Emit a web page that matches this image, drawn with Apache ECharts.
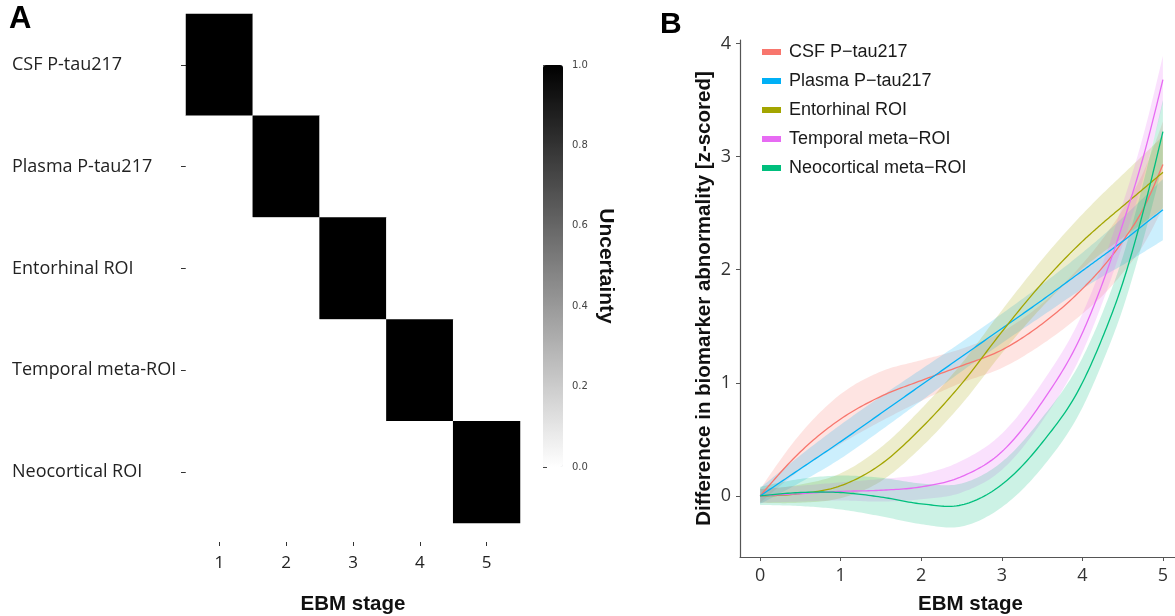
<!DOCTYPE html>
<html><head><meta charset="utf-8">
<script src="https://cdn.jsdelivr.net/npm/echarts@6/dist/echarts.min.js"></script>
<style>html,body{margin:0;padding:0;background:#fff;overflow:hidden}#c{width:1175px;height:616px}</style>
</head><body><div id="c"></div>
<script>
// ---------- Panel A data ----------
const ebmStages = ['1', '2', '3', '4', '5'];
const biomarkers = ['CSF P-tau217', 'Plasma P-tau217', 'Entorhinal ROI', 'Temporal meta-ROI', 'Neocortical ROI'];
// uncertainty[biomarker][stage]
const uncertainty = [
  [1, 0, 0, 0, 0],
  [0, 1, 0, 0, 0],
  [0, 0, 1, 0, 0],
  [0, 0, 0, 1, 0],
  [0, 0, 0, 0, 1]
];
const colorbarTicks = [0, 0.2, 0.4, 0.6, 0.8, 1.0];

// ---------- Panel B data ----------
const stageX = [0, 0.5, 1, 1.5, 2, 2.5, 3, 3.5, 4, 4.25, 4.5, 4.75, 5];
const xTicks = [0, 1, 2, 3, 4, 5];
const yTicks = [0, 1, 2, 3, 4];
const curveNames = ['CSF P\u2212tau217', 'Plasma P\u2212tau217', 'Entorhinal ROI', 'Temporal meta\u2212ROI', 'Neocortical meta\u2212ROI'];

const csfMean  = [0, 0.39, 0.68, 0.88, 1.02, 1.15, 1.29, 1.52, 1.83, 2.02, 2.25, 2.53, 2.93];
const csfLower = [-0.06, 0.23, 0.46, 0.66, 0.84, 1.00, 1.13, 1.34, 1.61, 1.77, 1.97, 2.21, 2.55];
const csfUpper = [0.06, 0.55, 0.90, 1.10, 1.20, 1.30, 1.45, 1.70, 2.05, 2.27, 2.53, 2.85, 3.31];

const plasmaMean  = [0, 0.24, 0.48, 0.73, 0.98, 1.23, 1.48, 1.73, 1.99, 2.12, 2.25, 2.39, 2.53];
const plasmaLower = [-0.07, 0.12, 0.33, 0.58, 0.84, 1.10, 1.35, 1.59, 1.83, 1.94, 2.04, 2.15, 2.26];
const plasmaUpper = [0.07, 0.36, 0.63, 0.88, 1.12, 1.36, 1.61, 1.87, 2.15, 2.30, 2.46, 2.63, 2.80];

const entoMean  = [0, 0.02, 0.09, 0.28, 0.60, 0.99, 1.45, 1.88, 2.25, 2.41, 2.56, 2.71, 2.86];
const entoLower = [-0.06, -0.06, -0.02, 0.13, 0.43, 0.81, 1.26, 1.67, 2.01, 2.15, 2.28, 2.41, 2.54];
const entoUpper = [0.06, 0.10, 0.20, 0.43, 0.77, 1.17, 1.64, 2.09, 2.49, 2.67, 2.84, 3.01, 3.18];

const tempMean  = [0, 0.02, 0.04, 0.05, 0.08, 0.17, 0.39, 0.83, 1.44, 1.88, 2.40, 2.98, 3.68];
const tempLower = [-0.06, -0.05, -0.04, -0.05, -0.03, 0.03, 0.23, 0.66, 1.27, 1.71, 2.22, 2.79, 3.47];
const tempUpper = [0.06, 0.09, 0.12, 0.15, 0.19, 0.31, 0.55, 1.00, 1.61, 2.05, 2.58, 3.17, 3.89];

const neoMean  = [0, 0.03, 0.03, -0.01, -0.07, -0.08, 0.10, 0.47, 1.00, 1.40, 1.88, 2.50, 3.22];
const neoLower = [-0.08, -0.09, -0.12, -0.18, -0.25, -0.27, -0.10, 0.25, 0.78, 1.18, 1.65, 2.25, 2.94];
const neoUpper = [0.08, 0.15, 0.18, 0.16, 0.11, 0.11, 0.30, 0.69, 1.22, 1.62, 2.11, 2.75, 3.50];

const curveColors = ['#F8766D', '#00B0F6', '#A3A500', '#E76BF3', '#00BF7D'];

// ---------- build ----------
const curves = [
  [csfMean, csfLower, csfUpper],
  [plasmaMean, plasmaLower, plasmaUpper],
  [entoMean, entoLower, entoUpper],
  [tempMean, tempLower, tempUpper],
  [neoMean, neoLower, neoUpper]
];

const heatData = [];
uncertainty.forEach((row, i) => row.forEach((v, j) => heatData.push([j, i, v])));

// smooth curve through (xs, ys): cubic Hermite with non-uniform tangents, sampled in data space
function smoothSamples(xs, ys) {
  const n = xs.length, h = [], d = [], m = [];
  for (let i = 0; i < n - 1; i++) { h.push(xs[i + 1] - xs[i]); d.push((ys[i + 1] - ys[i]) / h[i]); }
  for (let i = 1; i < n - 1; i++) m[i] = (d[i - 1] * h[i] + d[i] * h[i - 1]) / (h[i - 1] + h[i]);
  m[0] = 1.5 * d[0] - 0.5 * m[1];
  m[n - 1] = 1.5 * d[n - 2] - 0.5 * m[n - 2];
  const out = [];
  for (let i = 0; i < n - 1; i++) {
    const steps = 16;
    for (let s = 0; s < steps; s++) {
      const t = s / steps, t2 = t * t, t3 = t2 * t;
      const y = (2 * t3 - 3 * t2 + 1) * ys[i] + (t3 - 2 * t2 + t) * h[i] * m[i] +
                (-2 * t3 + 3 * t2) * ys[i + 1] + (t3 - t2) * h[i] * m[i + 1];
      out.push([xs[i] + t * h[i], y]);
    }
  }
  out.push([xs[n - 1], ys[n - 1]]);
  return out;
}

const series = [{
  type: 'heatmap', xAxisIndex: 0, yAxisIndex: 0, data: heatData,
  itemStyle: { borderWidth: 0 }, emphasis: { disabled: true }, silent: true
}];

curves.forEach((c, k) => {
  const [mean, lo, up] = c;
  series.push({
    name: '_band' + k, type: 'custom', xAxisIndex: 2, yAxisIndex: 2, silent: true, z: 2, clip: true,
    data: stageX.map((x, i) => [x, lo[i], up[i]]), encode: { x: 0, y: [1, 2] },
    renderItem: (params, api) => {
      if (params.dataIndex !== 0) return null;
      const upPts = smoothSamples(stageX, up).map(p => api.coord(p));
      const loPts = smoothSamples(stageX, lo).map(p => api.coord(p)).reverse();
      return { type: 'polygon', shape: { points: upPts.concat(loPts) },
               style: { fill: curveColors[k], opacity: 0.2 } };
    }
  });
});
curves.forEach((c, k) => {
  const mean = c[0];
  series.push({
    name: curveNames[k], type: 'custom', xAxisIndex: 2, yAxisIndex: 2, silent: true, z: 3, clip: true,
    itemStyle: { color: curveColors[k] },
    data: stageX.map((x, i) => [x, mean[i]]), encode: { x: 0, y: 1 },
    renderItem: (params, api) => {
      if (params.dataIndex !== 0) return null;
      const pts = smoothSamples(stageX, mean).map(p => api.coord(p));
      return { type: 'polyline', shape: { points: pts },
               style: { stroke: curveColors[k], fill: null, lineWidth: 1.3 } };
    }
  });
});

const humanist = '"Open Sans", "Noto Sans", sans-serif';
const helv = '"Liberation Sans", Arial, sans-serif';

const option = {
  animation: false,
  backgroundColor: '#ffffff',
  graphic: [
    { type: 'text', left: 9, top: 4, style: { text: 'A', font: 'bold 31px "Liberation Sans", Arial, sans-serif', fill: '#000' } },
    { type: 'text', left: 660, top: 10, style: { text: 'B', font: 'bold 30px "Liberation Sans", Arial, sans-serif', fill: '#000' } }
  ],
  grid: [
    { left: 186, top: 14, width: 334, height: 509, outerBoundsMode: 'none', containLabel: false },
    { left: 543, top: 65, width: 20, height: 402, outerBoundsMode: 'none', containLabel: false },
    { left: 740, top: 40, width: 435, height: 517, outerBoundsMode: 'none', containLabel: false }
  ],
  xAxis: [
    {
      gridIndex: 0, type: 'category', data: ebmStages, offset: 19,
      axisLine: { show: false },
      axisTick: { show: true, alignWithLabel: true, length: 4, lineStyle: { color: '#333' } },
      axisLabel: { fontSize: 17, color: '#222', fontFamily: humanist, margin: 13 },
      name: 'EBM stage', nameLocation: 'middle', nameGap: 52,
      nameTextStyle: { fontSize: 20.5, fontWeight: 'bold', fontFamily: helv, color: '#111' }
    },
    { gridIndex: 1, type: 'value', show: false, min: 0, max: 1 },
    {
      gridIndex: 2, type: 'value', min: -0.25, max: 5.15,
      axisLine: { show: true, onZero: false, lineStyle: { color: '#555', width: 1.2 } },
      axisTick: { show: true, length: 4, lineStyle: { color: '#555' }, customValues: xTicks },
      axisLabel: { fontSize: 18, color: '#333', fontFamily: humanist, margin: 10, customValues: xTicks },
      splitLine: { show: false },
      name: 'EBM stage', nameLocation: 'middle', nameGap: 37,
      nameTextStyle: { fontSize: 20.5, fontWeight: 'bold', fontFamily: helv, color: '#111', padding: [0, 0, 0, 26] }
    }
  ],
  yAxis: [
    {
      gridIndex: 0, type: 'category', data: biomarkers, inverse: true,
      axisLine: { show: false },
      axisTick: { show: true, alignWithLabel: true, length: 5, lineStyle: { color: '#333' } },
      axisLabel: { fontSize: 18, color: '#222', fontFamily: humanist, align: 'left', margin: 174 }
    },
    {
      gridIndex: 1, type: 'value', min: 0, max: 1, interval: 0.2, position: 'right',
      axisLine: { show: false },
      axisTick: { show: true, length: 4, lineStyle: { color: '#444' } },
      axisLabel: { fontSize: 10, color: '#444', fontFamily: '"DejaVu Sans", sans-serif', margin: 9,
                   formatter: v => v.toFixed(1), customValues: colorbarTicks },
      splitLine: { show: false },
      name: 'Uncertainty', nameLocation: 'middle', nameRotate: -90, nameGap: 32,
      nameTextStyle: { fontSize: 21, fontWeight: 'bold', fontFamily: helv, color: '#111' }
    },
    {
      gridIndex: 2, type: 'value', min: -0.54, max: 4.03,
      axisLine: { show: true, onZero: false, lineStyle: { color: '#555', width: 1.2 } },
      axisTick: { show: true, length: 4, lineStyle: { color: '#555' }, customValues: yTicks },
      axisLabel: { fontSize: 18, color: '#333', fontFamily: humanist, margin: 9, customValues: yTicks },
      splitLine: { show: false },
      name: 'Difference in biomarker abnormality [z-scored]', nameLocation: 'middle', nameRotate: 90, nameGap: 25,
      nameTextStyle: { fontSize: 20.5, fontWeight: 'bold', fontFamily: helv, color: '#111' }
    }
  ],
  visualMap: {
    type: 'continuous', min: 0, max: 1, seriesIndex: [0], calculable: false,
    orient: 'vertical', left: 543, top: 65, itemWidth: 20, itemHeight: 402, padding: 0,
    inRange: { color: ['#ffffff', '#000000'] }, text: null, hoverLink: false
  },
  legend: {
    data: curveNames, orient: 'vertical', left: 762, top: 43, padding: 0,
    icon: 'rect', itemWidth: 19, itemHeight: 6, itemGap: 11, selectedMode: false,
    textStyle: { fontSize: 18, fontFamily: helv, color: '#1a1a1a', padding: [0, 0, 0, 3] }
  },
  series: series
};

const chart = echarts.init(document.getElementById('c'), null, { renderer: 'canvas' });
chart.setOption(option);
</script>
</body></html>
